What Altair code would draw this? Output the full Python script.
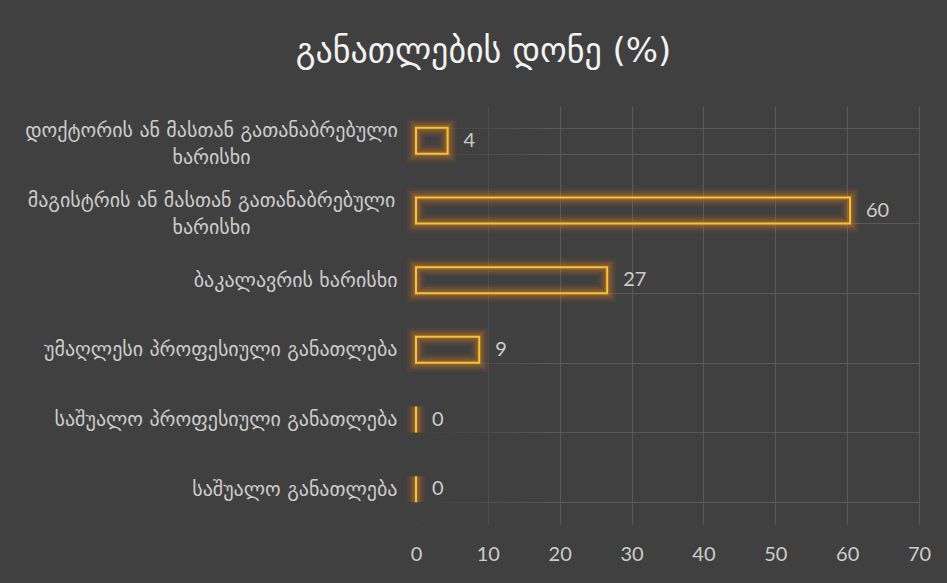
import altair as alt
import pandas as pd

categories = [
    "დოქტორის ან მასთან გათანაბრებული ხარისხი",
    "მაგისტრის ან მასთან გათანაბრებული ხარისხი",
    "ბაკალავრის ხარისხი",
    "უმაღლესი პროფესიული განათლება",
    "საშუალო პროფესიული განათლება",
    "საშუალო განათლება",
]
values = [4.4, 60.4, 26.6, 8.8, 0.0, 0.0]
x_ticks = [0, 10, 20, 30, 40, 50, 60, 70]
title_text = "განათლების დონე (%)"

df = pd.DataFrame({"category": categories, "value": values})

BG = "#404040"
GRID = "#5a5a5a"
LABEL = "#cccccc"
W, H = 503, 418
MULTI = "indexof(datum.label, 'გათანაბრებული') >= 0"

y_enc = alt.Y(
    "category:N",
    sort=categories,
    scale=alt.Scale(paddingInner=0.627, paddingOuter=0.3135),
    axis=alt.Axis(
        title=None,
        ticks=False,
        domain=False,
        grid=True,
        tickBand="extent",
        gridColor=GRID,
        labelFont="DejaVu Sans",
        labelFontSize=20,
        labelColor=LABEL,
        labelPadding={"condition": {"test": MULTI, "value": 205}, "value": 19},
        labelAlign={"condition": {"test": MULTI, "value": "center"}, "value": "right"},
        labelOffset={"condition": {"test": MULTI, "value": -10}, "value": 0},
        labelLimit=0,
        labelLineHeight=27,
        labelExpr="indexof(datum.label, 'გათანაბრებული') >= 0 ? split(replace(datum.label, ' ხარისხი', '|ხარისხი'), '|') : datum.label",
    ),
)
x_enc = alt.X(
    "value:Q",
    scale=alt.Scale(domain=[0, 70], nice=False),
    axis=alt.Axis(
        title=None,
        values=x_ticks,
        ticks=False,
        domain=False,
        grid=True,
        gridColor=GRID,
        labelFont="Lato",
        labelFontSize=20,
        labelColor=LABEL,
        labelPadding=20,
        labelFlush=False,
    ),
)

base = alt.Chart(df).encode(y=y_enc, x=x_enc)

fade = alt.Chart(pd.DataFrame({"a": [0], "b": [20]})).mark_rect(
    fill=alt.Gradient(
        gradient="linear",
        stops=[
            alt.GradientStop(color="rgba(64,64,64,1)", offset=0),
            alt.GradientStop(color="rgba(64,64,64,0.6)", offset=0.45),
            alt.GradientStop(color="rgba(64,64,64,0)", offset=1),
        ],
        x1=0, x2=1, y1=0, y2=0,
    )
).encode(x=alt.X("a:Q", scale=alt.Scale(domain=[0, 70], nice=False)), x2="b:Q")

glows = []
for w, o in [(18, 0.08), (13, 0.12), (9, 0.17), (5, 0.24)]:
    glows.append(
        base.mark_bar(fillOpacity=0, stroke="#e0821a", strokeWidth=w, strokeOpacity=o)
    )

bars = base.mark_bar(fillOpacity=0, stroke="#f5c33b", strokeWidth=2)

labels = base.mark_text(
    align="left", baseline="middle", dx=16, font="Lato", fontSize=20, color=LABEL
).encode(text=alt.Text("value:Q", format=".0f"))

chart = alt.layer(fade, *glows, bars, labels).properties(
    width=W,
    height=H,
    background=BG,
    padding={"left": 416, "top": 106, "right": 28, "bottom": 59},
    autosize=alt.AutoSizeParams(type="none"),
    title=alt.TitleParams(
        title_text,
        font="DejaVu Sans",
        fontSize=34,
        fontWeight="normal",
        color="#f2f2f2",
        anchor="middle",
        dx=-184,
        offset=27,
    ),
).configure_view(stroke=None)

chart.save("out.html", embed_options={"renderer": "svg", "actions": False})
